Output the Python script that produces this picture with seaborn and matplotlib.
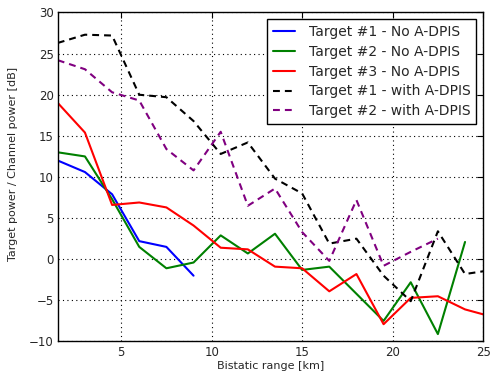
import matplotlib
matplotlib.use("Agg")
import matplotlib.pyplot as plt
import seaborn as sns
import numpy as np
import pandas as pd

sns.set_style("white")
plt.rcParams['font.family'] = ['DejaVu Sans']

x_t1 = [1.5, 3, 4.5, 6, 7.5, 9]
y_t1_no = [12.0, 10.6, 7.9, 2.2, 1.5, -2.0]

x_t2 = [1.5, 3, 4.5, 6, 7.5, 9, 10.5, 12, 13.5, 15, 16.5, 18, 19.5, 21, 22.5, 24]
y_t2_no = [13.0, 12.5, 7.3, 1.5, -1.1, -0.4, 2.9, 0.7, 3.1, -1.3, -0.9, -4.2, -7.5, -2.8, -9.1, 2.1]

x_t3 = [1.5, 3, 4.5, 6, 7.5, 9, 10.5, 12, 13.5, 15, 16.5, 18, 19.5, 21, 22.5, 24, 25.5]
y_t3_no = [19.0, 15.4, 6.6, 6.9, 6.3, 4.1, 1.4, 1.2, -0.9, -1.1, -3.9, -1.8, -7.9, -4.7, -4.5, -6.1, -7.0]

x_t1w = [1.5, 3, 4.5, 6, 7.5, 9, 10.5, 12, 13.5, 15, 16.5, 18, 19.5, 21, 22.5, 24, 25.5]
y_t1_with = [26.3, 27.3, 27.2, 20.0, 19.7, 16.8, 12.8, 14.2, 9.8, 8.0, 1.9, 2.5, -2.0, -5.1, 3.4, -1.8, -1.3]

x_t2w = [1.5, 3, 4.5, 6, 7.5, 9, 10.5, 12, 13.5, 15, 16.5, 18, 19.5, 21, 22.5]
y_t2_with = [24.2, 23.1, 20.3, 19.3, 13.4, 10.8, 15.5, 6.5, 8.6, 3.3, -0.2, 7.2, -0.8, 0.9, 2.5]

labels = ["Target #1 - No A-DPIS", "Target #2 - No A-DPIS", "Target #3 - No A-DPIS",
          "Target #1 - with A-DPIS", "Target #2 - with A-DPIS"]

fig = plt.figure(figsize=(4.94, 3.73), dpi=100)
ax = fig.add_axes([0.117, 0.0845, 0.861, 0.882])

series = [
    (x_t1, y_t1_no, "#0000ff", None),
    (x_t2, y_t2_no, "#008000", None),
    (x_t3, y_t3_no, "#ff0000", None),
    (x_t1w, y_t1_with, "#000000", (3.3, 2.4)),
    (x_t2w, y_t2_with, "#800080", (3.3, 2.4)),
]
for (xs, ys, col, dash), lab in zip(series, labels):
    df = pd.DataFrame({"x": xs, "y": ys})
    sns.lineplot(data=df, x="x", y="y", ax=ax, color=col, lw=1.5, label=lab,
                 sort=False, estimator=None)
    if dash is not None:
        ax.lines[-1].set_dashes(dash)

ax.set_xlim(1.5, 25)
ax.set_ylim(-10, 30)
ax.set_xticks([5, 10, 15, 20, 25])
ax.set_yticks(np.arange(-10, 31, 5))
ax.grid(True, color="black", linestyle=(0, (1, 3)), linewidth=0.8)
ax.tick_params(direction="in", top=True, right=True, length=4, width=0.8,
               labelsize=8.5, pad=3, color="black")
for s in ax.spines.values():
    s.set_color("black")
    s.set_linewidth(1.0)
ax.set_xlabel("Bistatic range [km]", fontsize=8, labelpad=2)
ax.set_ylabel("Target power / Channel power [dB]", fontsize=8)
ax.yaxis.set_label_coords(-0.094, 0.54)
leg = ax.legend(loc="upper right", fontsize=10, frameon=True, fancybox=False,
                edgecolor="black", framealpha=1, borderpad=0.4, handlelength=1.6,
                handletextpad=1.0, labelspacing=0.42)
leg.get_frame().set_linewidth(1.0)

fig.savefig("out.png", dpi=100)
